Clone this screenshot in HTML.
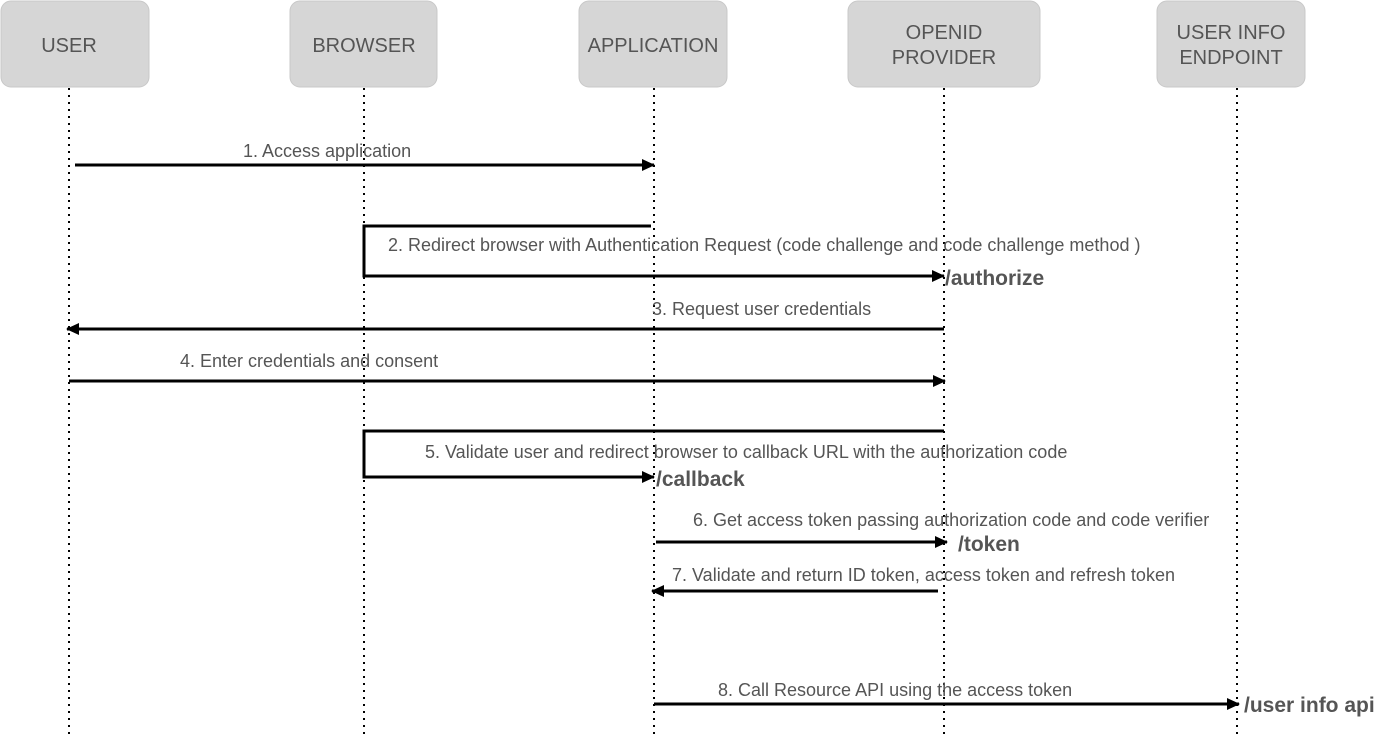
<!DOCTYPE html>
<html><head><style>body{margin:0;background:#fff}svg{display:block}</style></head><body>
<svg width="1400" height="738" viewBox="0 0 1400 738" xmlns="http://www.w3.org/2000/svg" font-family="Liberation Sans, sans-serif">
<defs><marker id="a" markerWidth="13" markerHeight="12" refX="12" refY="6" orient="auto" markerUnits="userSpaceOnUse"><path d="M0,0 L13,6 L0,12 Z" fill="#000"/></marker></defs>
<g fill="#d6d6d6" stroke="#c8c8c8">
<rect x="1" y="1" width="148" height="86" rx="10"/>
<rect x="290" y="1" width="147" height="86" rx="10"/>
<rect x="579" y="1" width="148" height="86" rx="10"/>
<rect x="848" y="1" width="192" height="86" rx="10"/>
<rect x="1157" y="1" width="148" height="86" rx="10"/>
</g>
<g fill="#555" font-size="20" text-anchor="middle">
<text x="69" y="52">USER</text>
<text x="364" y="52">BROWSER</text>
<text x="653" y="52">APPLICATION</text>
<text x="944" y="39">OPENID</text><text x="944" y="64">PROVIDER</text>
<text x="1231" y="39">USER INFO</text><text x="1231" y="64">ENDPOINT</text>
</g>
<g stroke="#000" stroke-width="2" stroke-dasharray="2,5">
<line x1="69" y1="88" x2="69" y2="738"/><line x1="364" y1="88" x2="364" y2="738"/><line x1="654" y1="88" x2="654" y2="738"/><line x1="944" y1="88" x2="944" y2="738"/><line x1="1237" y1="88" x2="1237" y2="738"/>
</g>
<g stroke="#000" stroke-width="3" fill="none">
<line x1="75" y1="165" x2="654" y2="165" marker-end="url(#a)"/>
<polyline points="651,226 364,226 364,276 944,276" marker-end="url(#a)"/>
<line x1="944" y1="329" x2="67" y2="329" marker-end="url(#a)"/>
<line x1="69" y1="381" x2="945" y2="381" marker-end="url(#a)"/>
<polyline points="944,431 364,431 364,477 654,477" marker-end="url(#a)"/>
<line x1="656" y1="542" x2="947" y2="542" marker-end="url(#a)"/>
<line x1="938" y1="591" x2="652" y2="591" marker-end="url(#a)"/>
<line x1="654" y1="704" x2="1239" y2="704" marker-end="url(#a)"/>
</g>
<g fill="#555" font-size="18">
<text x="243" y="157">1. Access application</text>
<text x="388" y="251">2. Redirect browser with Authentication Request (code challenge and code challenge method )</text>
<text x="652" y="315">3. Request user credentials</text>
<text x="180" y="367">4. Enter credentials and consent</text>
<text x="425" y="458">5. Validate user and redirect browser to callback URL with the authorization code</text>
<text x="693" y="526">6. Get access token passing authorization code and code verifier</text>
<text x="672" y="581">7. Validate and return ID token, access token and refresh token</text>
<text x="718" y="696">8. Call Resource API using the access token</text>
</g>
<g fill="#555" font-size="21" font-weight="bold">
<text x="945" y="285">/authorize</text>
<text x="656" y="486">/callback</text>
<text x="958" y="551">/token</text>
<text x="1244" y="712">/user info api</text>
</g>
</svg>
</body></html>
